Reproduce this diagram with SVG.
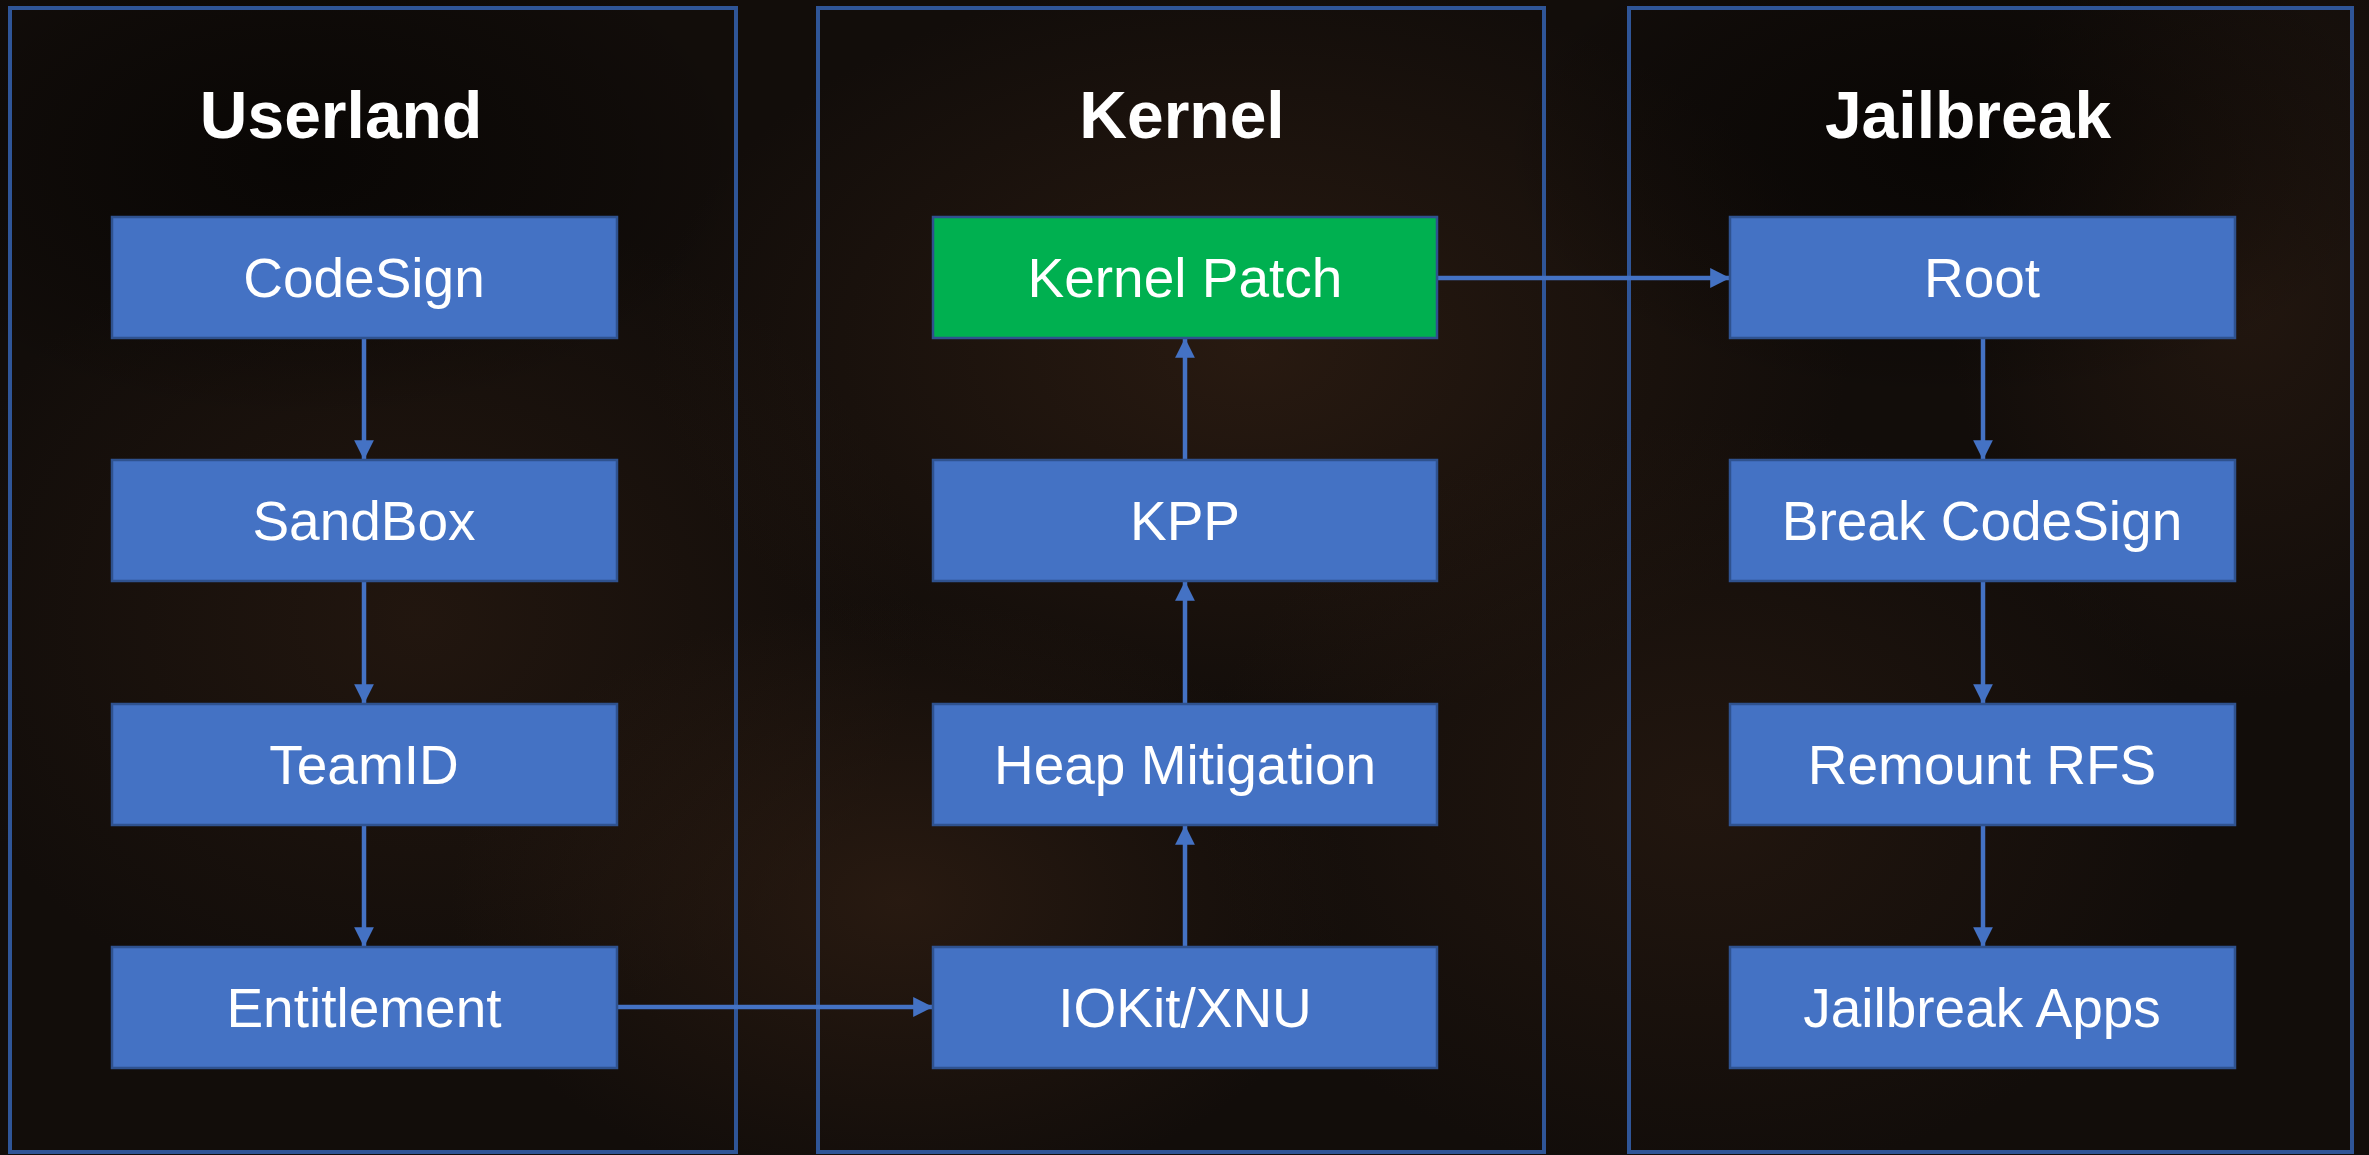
<svg xmlns="http://www.w3.org/2000/svg" width="2369" height="1155" viewBox="0 0 2369 1155">
<defs>
<radialGradient id="g1" cx="0.5" cy="0.5" r="0.5"><stop offset="0" stop-color="#3a2416" stop-opacity="0.55"/><stop offset="1" stop-color="#3a2416" stop-opacity="0"/></radialGradient>
<radialGradient id="g2" cx="0.5" cy="0.5" r="0.5"><stop offset="0" stop-color="#2c1c12" stop-opacity="0.6"/><stop offset="1" stop-color="#2c1c12" stop-opacity="0"/></radialGradient>
<radialGradient id="g3" cx="0.5" cy="0.5" r="0.5"><stop offset="0" stop-color="#030201" stop-opacity="0.6"/><stop offset="1" stop-color="#030201" stop-opacity="0"/></radialGradient>
<marker id="ah" viewBox="0 0 10 10" refX="10" refY="5" markerWidth="4.4" markerHeight="4.4" orient="auto" markerUnits="strokeWidth"><path d="M0,0 L10,5 L0,10 z" fill="#4472C4"/></marker>
</defs>
<style>
.cont{fill:none;stroke:#2F5597;stroke-width:4}
.box{fill:#4472C4;stroke:#2F528F;stroke-width:2.5}
.green{fill:#00B050;stroke:#2F528F;stroke-width:2.5}
.lbl{font-family:"Liberation Sans",Arial,sans-serif;font-size:55px;fill:#ffffff;text-anchor:middle}
.title{font-family:"Liberation Sans",Arial,sans-serif;font-size:66px;font-weight:bold;fill:#ffffff;text-anchor:middle}
.conn{fill:none;stroke:#4472C4;stroke-width:4.5;marker-end:url(#ah)}
</style>
<rect x="0" y="0" width="2369" height="1155" fill="#120d0a"/>
<ellipse cx="420" cy="620" rx="500" ry="420" fill="url(#g2)"/>
<ellipse cx="1250" cy="350" rx="600" ry="380" fill="url(#g1)"/>
<ellipse cx="900" cy="900" rx="450" ry="300" fill="url(#g1)"/>
<ellipse cx="1700" cy="800" rx="500" ry="380" fill="url(#g2)"/>
<ellipse cx="2250" cy="300" rx="300" ry="400" fill="url(#g2)"/>
<ellipse cx="300" cy="160" rx="450" ry="260" fill="url(#g3)"/>
<ellipse cx="1950" cy="150" rx="450" ry="250" fill="url(#g3)"/>

<g id="container-userland"><rect class="cont" x="10" y="8" width="726" height="1144"/><text class="title" x="341" y="138">Userland</text></g>
<g id="container-kernel"><rect class="cont" x="818" y="8" width="726" height="1144"/><text class="title" x="1182" y="138">Kernel</text></g>
<g id="container-jailbreak"><rect class="cont" x="1629" y="8" width="723" height="1144"/><text class="title" x="1968" y="138">Jailbreak</text></g>

<g id="connectors">
<line class="conn" x1="364" y1="338" x2="364" y2="460"/>
<line class="conn" x1="364" y1="581" x2="364" y2="704"/>
<line class="conn" x1="364" y1="825" x2="364" y2="947"/>
<line class="conn" x1="617" y1="1007" x2="933" y2="1007"/>
<line class="conn" x1="1185" y1="947" x2="1185" y2="825"/>
<line class="conn" x1="1185" y1="704" x2="1185" y2="581"/>
<line class="conn" x1="1185" y1="460" x2="1185" y2="338"/>
<line class="conn" x1="1437" y1="278" x2="1730" y2="278"/>
<line class="conn" x1="1983" y1="338" x2="1983" y2="460"/>
<line class="conn" x1="1983" y1="581" x2="1983" y2="704"/>
<line class="conn" x1="1983" y1="825" x2="1983" y2="947"/>
</g>

<g id="codesign"><rect class="box" x="112" y="217" width="505" height="121"/><text class="lbl" x="364" y="297">CodeSign</text></g>
<g id="sandbox"><rect class="box" x="112" y="460" width="505" height="121"/><text class="lbl" x="364" y="540">SandBox</text></g>
<g id="teamid"><rect class="box" x="112" y="704" width="505" height="121"/><text class="lbl" x="364" y="784">TeamID</text></g>
<g id="entitlement"><rect class="box" x="112" y="947" width="505" height="121"/><text class="lbl" x="364" y="1027">Entitlement</text></g>

<g id="kernel-patch"><rect class="green" x="933" y="217" width="504" height="121"/><text class="lbl" x="1185" y="297">Kernel Patch</text></g>
<g id="kpp"><rect class="box" x="933" y="460" width="504" height="121"/><text class="lbl" x="1185" y="540">KPP</text></g>
<g id="heap-mitigation"><rect class="box" x="933" y="704" width="504" height="121"/><text class="lbl" x="1185" y="784">Heap Mitigation</text></g>
<g id="iokit-xnu"><rect class="box" x="933" y="947" width="504" height="121"/><text class="lbl" x="1185" y="1027">IOKit/XNU</text></g>

<g id="root"><rect class="box" x="1730" y="217" width="505" height="121"/><text class="lbl" x="1982" y="297">Root</text></g>
<g id="break-codesign"><rect class="box" x="1730" y="460" width="505" height="121"/><text class="lbl" x="1982" y="540">Break CodeSign</text></g>
<g id="remount-rfs"><rect class="box" x="1730" y="704" width="505" height="121"/><text class="lbl" x="1982" y="784">Remount RFS</text></g>
<g id="jailbreak-apps"><rect class="box" x="1730" y="947" width="505" height="121"/><text class="lbl" x="1982" y="1027">Jailbreak Apps</text></g>
</svg>
